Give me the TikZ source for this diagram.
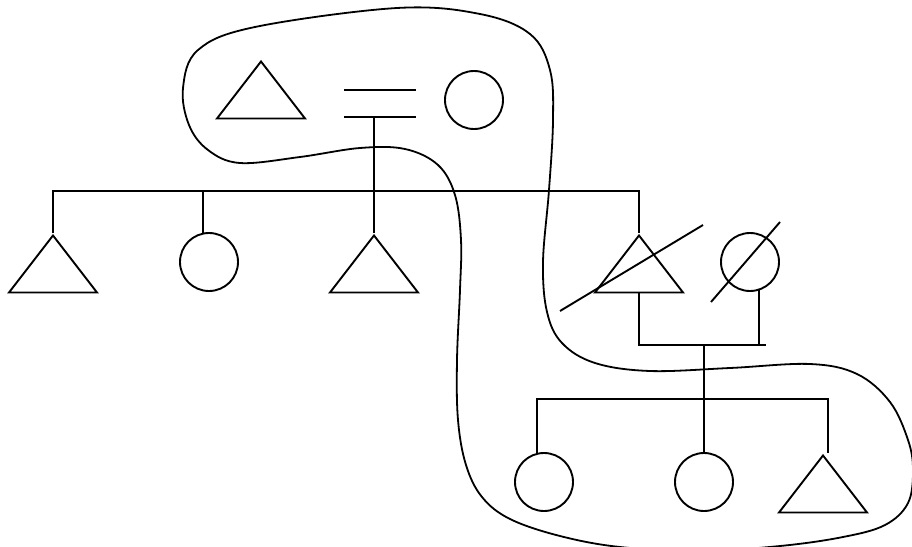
\documentclass[tikz,border=0pt]{standalone}
\usetikzlibrary{shapes.geometric,calc}
\begin{document}
\begin{tikzpicture}[x=1pt, y=-1pt, line width=1.9pt]
    \tikzset{male/.style={draw, isosceles triangle, isosceles triangle stretches,
        shape border rotate=90, minimum width=88pt, minimum height=57pt,
        inner sep=0pt, anchor=apex},
      female/.style={draw, circle, minimum size=58pt, inner sep=0pt}}
    \useasboundingbox (0,0) rectangle (912,546);
    % parents
    \node[male] (dad) at (261,59) {};
    \node[female] (mum) at (474,100) {};
    \coordinate (wedA) at (344,90);
    \coordinate (wedB) at (344,117);
    \draw (wedA) -- ++(72,0);
    \draw (wedB) -- ++(72,0);
    % children
    \coordinate (sibA) at (0,191);
    \node[male] (s1) at (53,233) {};
    \node[female] (s2) at (209,262) {};
    \node[male] (s3) at (374,233) {};
    \node[male] (s4) at (639,233) {};
    \node[female] (s5) at (750,262) {};
    \draw (s1.apex) -- (s1.apex |- sibA) -- (s4.apex |- sibA) -- (s4.apex);
    \draw (s2.102) -- (s2.102 |- sibA);
    \draw (s3.apex |- wedB) -- (s3.apex);
    \draw ($(s4.apex)+(-79,78)$) -- ($(s4.apex)+(64,-8)$);
    \draw ($(s5)+(-39,40)$) -- ($(s5)+(30,-40)$);
    \coordinate (wedC) at (0,345);
    \draw (s4.lower side) -- (s4.lower side |- wedC) -- ++(127,0);
    \draw (s5.-72) -- (s5.-72 |- wedC);
    % grandchildren
    \coordinate (sibB) at (0,399);
    \node[female] (g1) at (544,482) {};
    \node[female] (g2) at (704,482) {};
    \node[male] (g3) at (823,453) {};
    \draw (g2.north |- wedC) -- (g2.north);
    \draw (g1.104) -- (g1.104 |- sibB) -- ($(g3.apex |- sibB)+(5,0)$) -- ($(g3.apex)+(5,0)$);
    % the loop
    \draw[line width=1.8pt] plot[smooth cycle, tension=0.6] coordinates {
      (183,88) (198,50) (255,27) (397,8) (480,14) (530,34) (550,70)
      (553,120) (549,190) (543,262) (547,312) (562,343) (595,363) (650,371)
      (730,368) (810,364) (857,374) (890,402) (908,440) (913,470)
      (908,503) (885,525) (843,537) (780,546) (700,551) (620,547) (560,536)
      (510,519) (482,497) (466,465) (458,420) (457,360) (460,290) (461,240)
      (455,195) (438,165) (405,149) (360,148) (300,157) (240,163) (208,150)
      (189,125)};
\end{tikzpicture}
\end{document}
